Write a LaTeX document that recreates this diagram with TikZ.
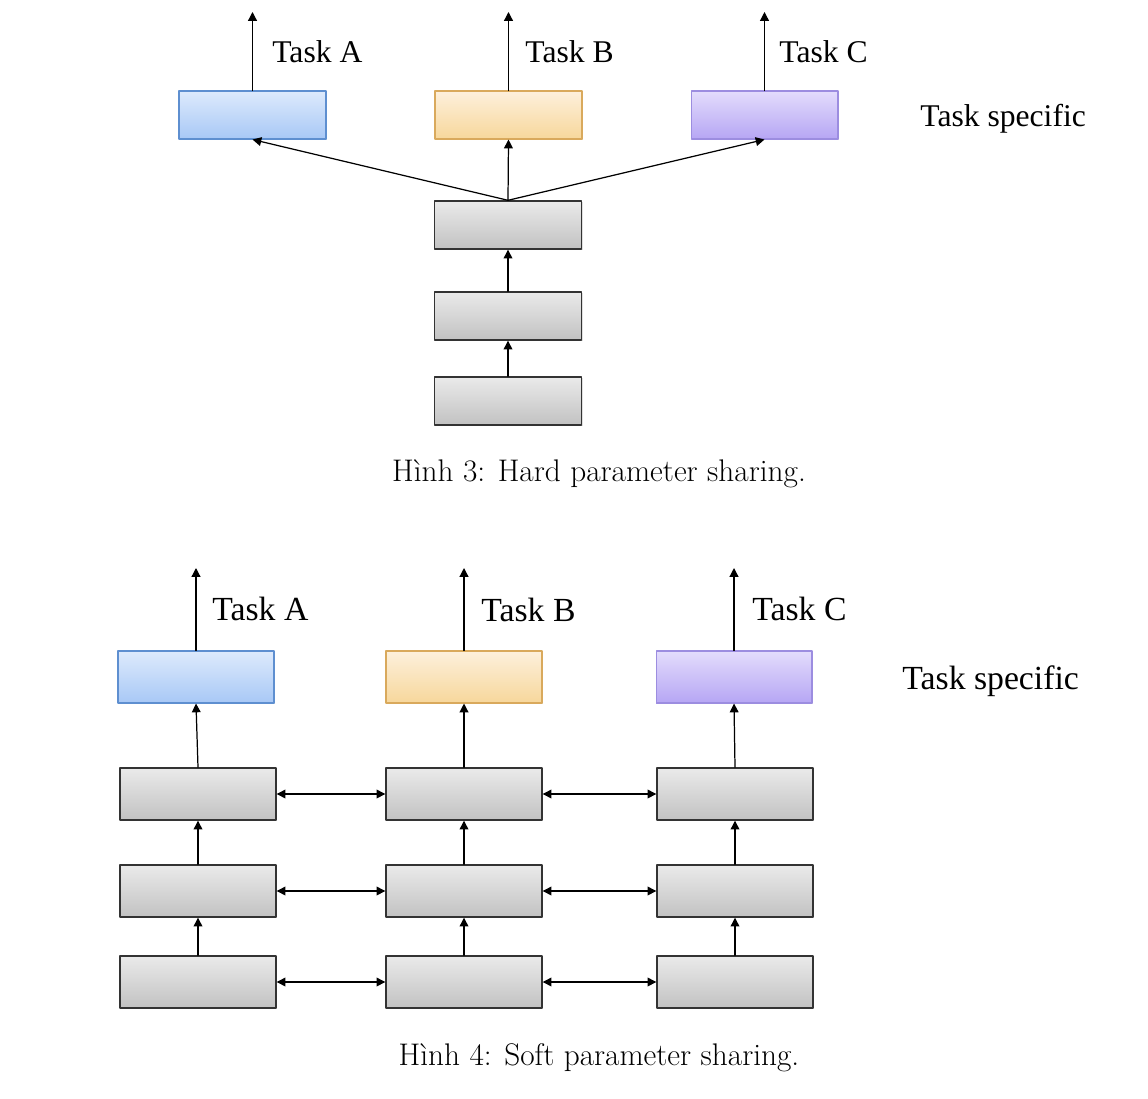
\documentclass[tikz,border=0pt]{standalone}
\usepackage{fontspec}
\newfontfamily\taskfont{Liberation Serif}
\usetikzlibrary{arrows.meta,shadows}

% Box colours
\definecolor{blueTop}{HTML}{DDEAFC}
\definecolor{blueBot}{HTML}{A8C8F6}
\definecolor{blueLine}{HTML}{5E8FD0}
\definecolor{orangeTop}{HTML}{FDF0DC}
\definecolor{orangeBot}{HTML}{F7D79B}
\definecolor{orangeLine}{HTML}{D9A95C}
\definecolor{purpleTop}{HTML}{E3DCFC}
\definecolor{purpleBot}{HTML}{B6A6F4}
\definecolor{purpleLine}{HTML}{9C8DE0}
\definecolor{greyTop}{HTML}{EAEAEA}
\definecolor{greyBot}{HTML}{C2C2C2}

\tikzset{
  layer/.style={line width=0.6pt, inner sep=0pt,
    drop shadow={opacity=0.25, shadow xshift=0.8pt, shadow yshift=-0.8pt}},
  small/.style={minimum width=2.94cm, minimum height=0.96cm},
  big/.style={minimum width=3.12cm, minimum height=1.04cm},
  shared/.style={layer, line width=0.8pt, draw=black!80, top color=greyTop, bottom color=greyBot},
  taska/.style={layer, draw=blueLine, top color=blueTop, bottom color=blueBot},
  taskb/.style={layer, draw=orangeLine, top color=orangeTop, bottom color=orangeBot},
  taskc/.style={layer, draw=purpleLine, top color=purpleTop, bottom color=purpleBot},
  arr/.style={-{Triangle[length=5pt,width=5pt]}, line width=0.7pt},
  twoway/.style={{Triangle[length=5pt,width=5pt]}-{Triangle[length=5pt,width=5pt]}, line width=0.7pt},
  tasktext/.style={font=\taskfont\fontsize{18}{21}\selectfont, anchor=west, inner sep=0pt},
  tasktextb/.style={font=\taskfont\fontsize{19.2}{23}\selectfont, anchor=west, inner sep=0pt},
  caption/.style={font=\fontsize{17.8}{21}\selectfont, inner sep=0pt}
}

\begin{document}
\begin{tikzpicture}[x=0.02cm, y=-0.02cm, line cap=round, line join=round]
  \useasboundingbox (0,0) rectangle (1148,1098);

  % ---------------- Hard parameter sharing ----------------
  % Task specific layers
  \node[taska, small] (ha) at (252.5,115) {};
  \node[taskb, small] (hb) at (508.5,115) {};
  \node[taskc, small] (hc) at (764.5,115) {};

  % Shared layers
  \node[shared, small] (hs1) at (508,401) {};
  \node[shared, small] (hs2) at (508,316) {};
  \node[shared, small] (hs3) at (508,225) {};

  % Outputs
  \coordinate (hoa) at (252.5,12);
  \coordinate (hob) at (508.5,12);
  \coordinate (hoc) at (764.5,12);
  \draw[arr] (ha.north) -- (hoa);
  \draw[arr] (hb.north) -- (hob);
  \draw[arr] (hc.north) -- (hoc);

  \draw[arr] (hs1.north) -- (hs2.south);
  \draw[arr] (hs2.north) -- (hs3.south);
  \draw[arr] (hs3.north) -- (ha.south);
  \draw[arr] (hs3.north) -- (hb.south);
  \draw[arr] (hs3.north) -- (hc.south);

  % Labels
  \node[tasktext] (hla) at (272,52) {Task A};
  \node[tasktext] (hlb) at (525,52) {Task B};
  \node[tasktext] (hlc) at (779,52) {Task C};
  \node[tasktext] (hspec) at (920,119) {Task specific};

  \node[caption] (cap3) at (599,474) {Hình 3: Hard parameter sharing.};

  % ---------------- Soft parameter sharing ----------------
  % Task specific layers
  \node[taska, big] (sa) at (196,677) {};
  \node[taskb, big] (sb) at (464,677) {};
  \node[taskc, big] (sc) at (734,677) {};

  % Three columns of layers, one per task
  \foreach \c/\x in {a/198,b/464,c/735}
    \foreach \r/\y in {1/982,2/891,3/794}
      \node[shared, big] (s\c\r) at (\x,\y) {};

  % Vertical connections
  \foreach \c in {a,b,c} {
    \draw[arr] (s\c1.north) -- (s\c2.south);
    \draw[arr] (s\c2.north) -- (s\c3.south);
    \draw[arr] (s\c3.north) -- (s\c.south);
  }

  % Horizontal connections between tasks
  \foreach \r in {1,2,3} {
    \draw[twoway] (sa\r.east) -- (sb\r.west);
    \draw[twoway] (sb\r.east) -- (sc\r.west);
  }

  % Outputs
  \coordinate (soa) at (196,568);
  \coordinate (sob) at (464,568);
  \coordinate (soc) at (734,568);
  \draw[arr] (sa.north) -- (soa);
  \draw[arr] (sb.north) -- (sob);
  \draw[arr] (sc.north) -- (soc);

  % Labels
  \node[tasktextb] (sla) at (212,609) {Task A};
  \node[tasktextb] (slb) at (481,610) {Task B};
  \node[tasktextb] (slc) at (752,609) {Task C};
  \node[tasktextb] (sspec) at (902,681) {Task specific};

  \node[caption] (cap4) at (599,1058) {Hình 4: Soft parameter sharing.};
\end{tikzpicture}
\end{document}
